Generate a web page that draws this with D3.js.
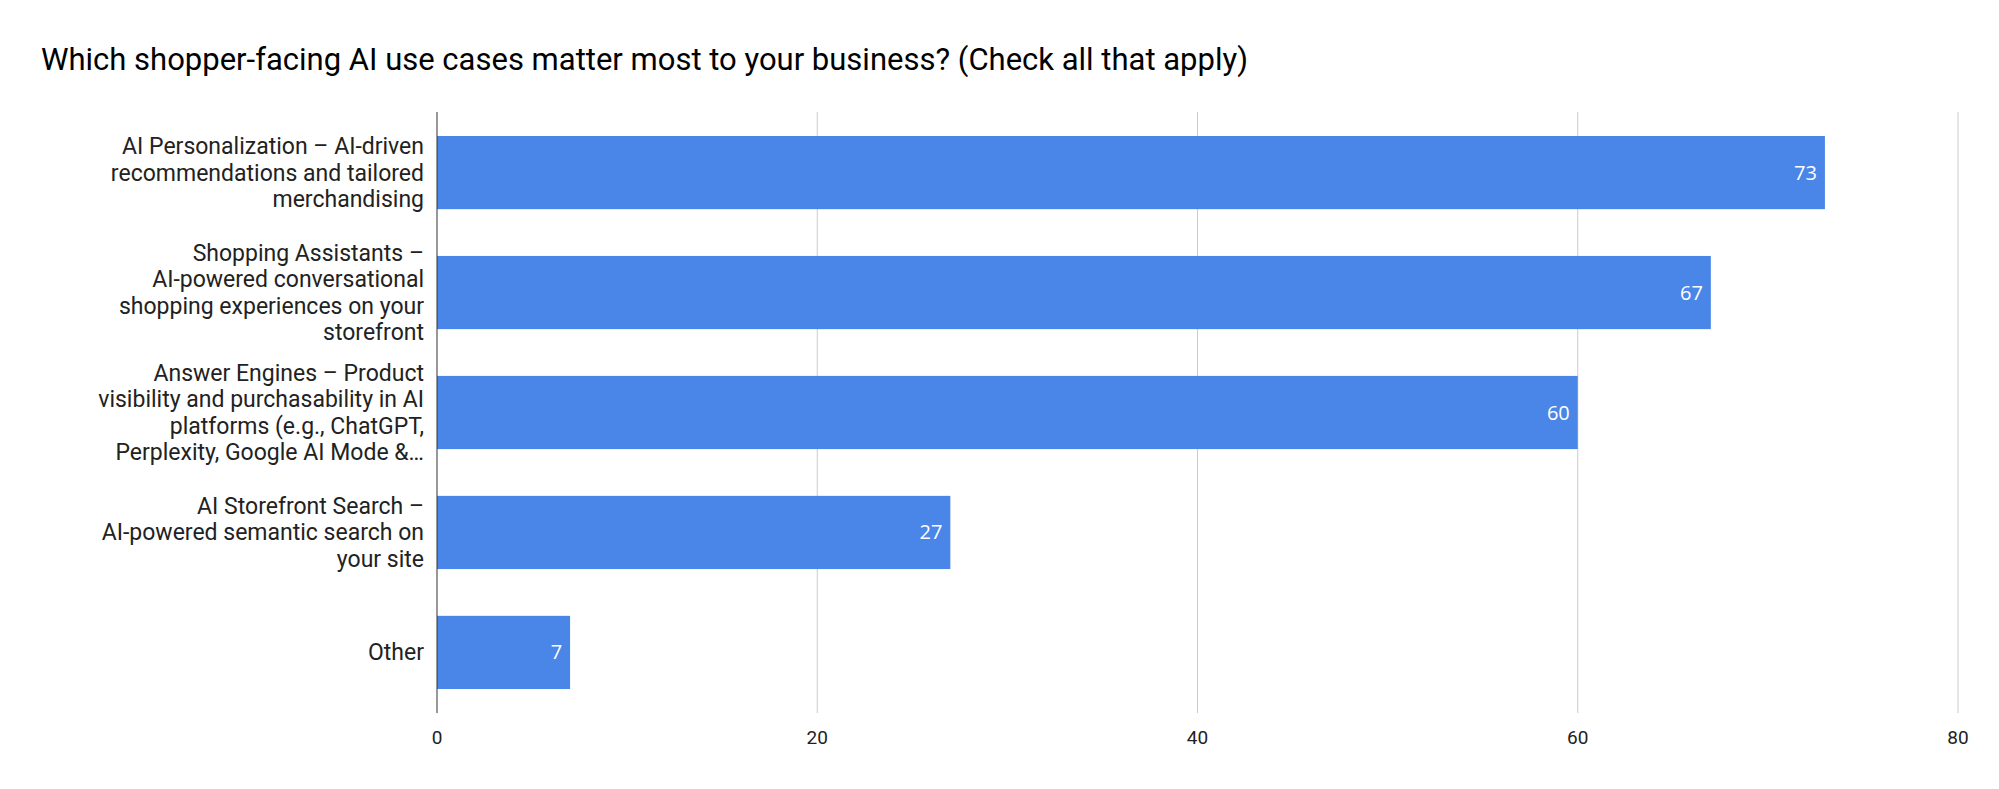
<!DOCTYPE html><html><head><meta charset="utf-8"><script src="https://cdn.jsdelivr.net/npm/d3@7"></script>
<style>body{margin:0;background:#fff}</style></head><body><svg id="c" width="1999" height="789"></svg>
<script>
const categories=[
 ["AI Personalization – AI-driven","recommendations and tailored","merchandising"],
 ["Shopping Assistants –","AI-powered conversational","shopping experiences on your","storefront"],
 ["Answer Engines – Product","visibility and purchasability in AI","platforms (e.g., ChatGPT,","Perplexity, Google AI Mode &…"],
 ["AI Storefront Search –","AI-powered semantic search on","your site"],
 ["Other"]];
const values=[73,67,60,27,7];
const ticks=[0,20,40,60,80];
const svg=d3.select("#c");
const L=437,R=1958,T=112,B=713;
const x=d3.scaleLinear().domain([0,80]).range([L,R]);
const y=d3.scaleBand().domain(d3.range(values.length)).range([T,B]).paddingInner(0.39).paddingOuter(0.2);
svg.append("text").attr("x",41).attr("y",70).attr("font-family","Roboto, Arial, sans-serif").attr("font-size",31).attr("fill","#000").text("Which shopper-facing AI use cases matter most to your business? (Check all that apply)");
svg.append("g").selectAll("line").data(ticks.slice(1)).join("line").attr("x1",d=>x(d)).attr("x2",d=>x(d)).attr("y1",T).attr("y2",B).attr("stroke","#cccccc");
svg.append("g").selectAll("text").data(ticks).join("text").attr("x",d=>x(d)).attr("y",744).attr("text-anchor","middle").attr("font-family","Roboto, Arial, sans-serif").attr("font-size",19).attr("fill","#222").text(d=>d);
svg.append("g").selectAll("rect").data(values).join("rect").attr("x",x(0)).attr("y",(d,i)=>y(i)).attr("width",d=>x(d)-x(0)).attr("height",y.bandwidth()).attr("fill","#4a86e8");
svg.append("g").selectAll("text").data(values).join("text").attr("x",d=>x(d)-8).attr("y",(d,i)=>y(i)+y.bandwidth()/2+7).attr("text-anchor","end").attr("font-family","Open Sans, sans-serif").attr("font-size",20).attr("fill","#fff").text(d=>d);
svg.append("line").attr("x1",x(0)).attr("x2",x(0)).attr("y1",T).attr("y2",B).attr("stroke","#333");
const lab=svg.append("g").attr("font-family","Roboto, Arial, sans-serif").attr("font-size",23).attr("fill","#222").attr("text-anchor","end");
categories.forEach((lines,i)=>{const cy=y(i)+y.bandwidth()/2;const lh=26.5;const t=lab.append("text").attr("x",424);
 lines.forEach((s,j)=>t.append("tspan").attr("x",424).attr("y",cy+(j-(lines.length-1)/2)*lh+8).text(s));});
</script></body></html>
